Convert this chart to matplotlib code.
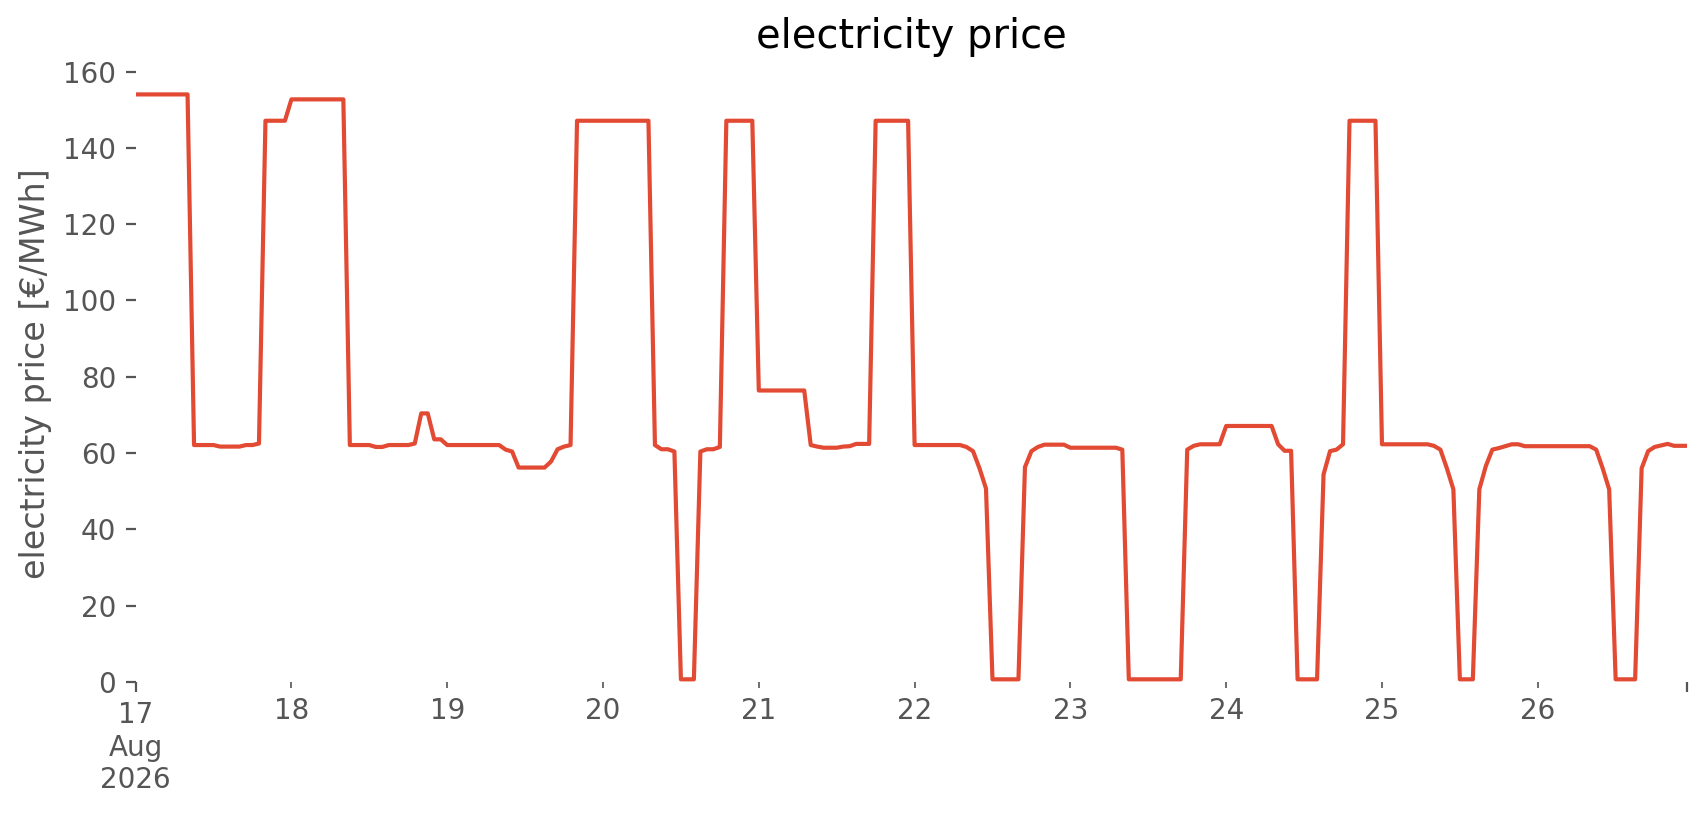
import matplotlib
matplotlib.use("Agg")
import matplotlib.pyplot as plt
import matplotlib.dates as mdates
import pandas as pd

plt.style.use("ggplot")

# hourly electricity price [€/MWh], 17 Aug 2026 00:00 .. 26 Aug 2026 23:00
day_17 = [154.0, 154.0, 154.0, 154.0, 154.0, 154.0, 154.0, 154.0, 154.0, 62.1, 62.1, 62.1,
          62.1, 61.7, 61.7, 61.7, 61.7, 62.1, 62.1, 62.5, 147.1, 147.1, 147.1, 147.1]
day_18 = [152.7, 152.7, 152.7, 152.7, 152.7, 152.7, 152.7, 152.7, 152.7, 62.1, 62.1, 62.1,
          62.1, 61.6, 61.6, 62.1, 62.1, 62.1, 62.1, 62.5, 70.4, 70.4, 63.6, 63.6]
day_19 = [62.1, 62.1, 62.1, 62.1, 62.1, 62.1, 62.1, 62.1, 62.1, 60.9, 60.4, 56.2,
          56.2, 56.2, 56.2, 56.2, 57.8, 61.0, 61.7, 62.1, 147.1, 147.1, 147.1, 147.1]
day_20 = [147.1, 147.1, 147.1, 147.1, 147.1, 147.1, 147.1, 147.1, 62.1, 61.0, 61.0, 60.4,
          0.7, 0.7, 0.7, 60.4, 61.0, 61.0, 61.6, 147.1, 147.1, 147.1, 147.1, 147.1]
day_21 = [76.4, 76.4, 76.4, 76.4, 76.4, 76.4, 76.4, 76.4, 62.1, 61.7, 61.4, 61.4,
          61.4, 61.7, 61.8, 62.4, 62.4, 62.4, 147.1, 147.1, 147.1, 147.1, 147.1, 147.1]
day_22 = [62.1, 62.1, 62.1, 62.1, 62.1, 62.1, 62.1, 62.1, 61.6, 60.5, 56.0, 50.7,
          0.7, 0.7, 0.7, 0.7, 0.7, 56.3, 60.5, 61.6, 62.2, 62.2, 62.2, 62.2]
day_23 = [61.4, 61.4, 61.4, 61.4, 61.4, 61.4, 61.4, 61.4, 60.9, 0.7, 0.7, 0.7,
          0.7, 0.7, 0.7, 0.7, 0.7, 0.7, 60.9, 61.9, 62.3, 62.3, 62.3, 62.3]
day_24 = [67.1, 67.1, 67.1, 67.1, 67.1, 67.1, 67.1, 67.1, 62.3, 60.6, 60.6, 0.7,
          0.7, 0.7, 0.7, 54.4, 60.5, 60.9, 62.3, 147.1, 147.1, 147.1, 147.1, 147.1]
day_25 = [62.3, 62.3, 62.3, 62.3, 62.3, 62.3, 62.3, 62.3, 61.9, 60.9, 56.0, 50.5,
          0.7, 0.7, 0.7, 50.5, 56.6, 60.9, 61.3, 61.8, 62.3, 62.3, 61.8, 61.8]
day_26 = [61.8, 61.8, 61.8, 61.8, 61.8, 61.8, 61.8, 61.8, 61.8, 60.9, 56.0, 50.5,
          0.7, 0.7, 0.7, 0.7, 56.0, 60.5, 61.6, 62.0, 62.4, 61.9, 61.9, 61.9]

start = "2026-08-17 00:00"
title = "electricity price"
ylabel = "electricity price [€/MWh]"
ytick_values = [0, 20, 40, 60, 80, 100, 120, 140, 160]
day_labels = ["18", "19", "20", "21", "22", "23", "24", "25", "26"]
first_label = "17\nAug\n2026"

prices = day_17 + day_18 + day_19 + day_20 + day_21 + day_22 + day_23 + day_24 + day_25 + day_26
times = pd.date_range(start, periods=len(prices), freq="h")

fig = plt.figure(figsize=(8.53, 4.075), dpi=200)
ax = fig.add_axes([0.0795, 0.1632, 0.9094, 0.757])
ax.plot(times, prices, color="#E24A33", lw=1.5)

ax.set_facecolor("white")
ax.grid(False)
for s in ax.spines.values():
    s.set_visible(False)

ax.set_xlim(times[0], times[-1])
ax.set_ylim(0, 161.7)
ax.set_yticks(ytick_values)

days = pd.date_range(times[0] + pd.Timedelta(days=1), periods=len(day_labels), freq="D")
ax.set_xticks([mdates.date2num(times[0]), mdates.date2num(times[-1])])
ax.set_xticklabels([first_label, ""])
ax.set_xticks(mdates.date2num(days), minor=True)
ax.set_xticklabels(day_labels, minor=True)
ax.tick_params(axis="x", which="minor", labelsize=10, colors="#555555")

ax.set_title(title)
ax.set_ylabel(ylabel)

fig.savefig("out.png", dpi=200)
